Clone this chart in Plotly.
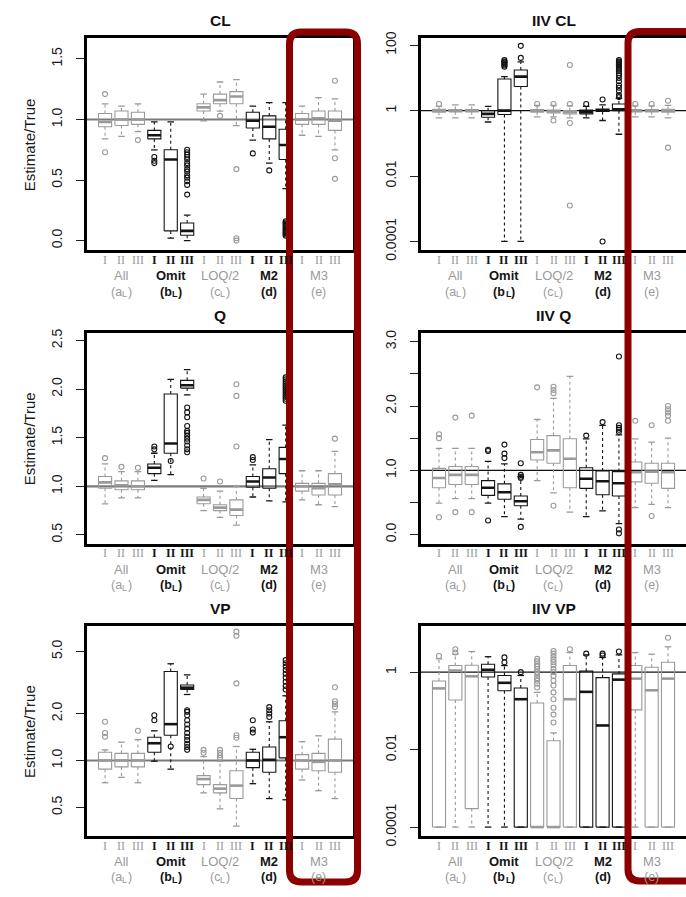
import plotly.graph_objects as go

W, H = 686, 897

# ---- categories -------------------------------------------------------------
GROUPS = ["All", "Omit", "LOQ/2", "M2", "M3"]
# tag = (letter, subscript) -> drawn as "(a_L)", "(d)" ...
GROUP_TAGS = [("a", "L"), ("b", "L"), ("c", "L"), ("d", ""), ("e", "")]
VARIANTS = ["I", "II", "III"]
positions = list(range(1, 16))

GREY = "#9a9a9a"
BLACK = "#141414"
GROUP_COLORS = [GREY, BLACK, GREY, BLACK, GREY]
box_colors = [GROUP_COLORS[(p - 1) // 3] for p in positions]

# ---- CL (Estimate/True) -----------------------------------------------------
cl_q1 = [0.94, 0.95, 0.96, 0.84, 0.08, 0.044, 1.07, 1.13, 1.13, 0.93, 0.84, 0.67, 0.96, 0.96, 0.91]
cl_med = [0.98, 1.00, 1.00, 0.87, 0.67, 0.08, 1.10, 1.16, 1.19, 0.99, 0.94, 0.79, 1.00, 1.01, 0.99]
cl_q3 = [1.05, 1.07, 1.06, 0.91, 0.75, 0.145, 1.13, 1.21, 1.23, 1.06, 1.03, 0.92, 1.05, 1.07, 1.07]
cl_lo = [0.84, 0.86, 0.90, 0.75, 0.02, 0.00, 0.99, 1.07, 0.95, 0.83, 0.64, 0.43, 0.87, 0.86, 0.75]
cl_hi = [1.13, 1.11, 1.13, 0.98, 0.98, 0.21, 1.21, 1.31, 1.33, 1.11, 1.14, 1.14, 1.11, 1.18, 1.17]
cl_out = [[1.21, 0.73], [], [0.83], [0.69, 0.66, 0.64], [],
          [0.75, 0.73, 0.71, 0.69, 0.67, 0.64, 0.62, 0.59, 0.57, 0.54, 0.52, 0.49, 0.46, 0.38],
          [], [1.03], [0.59, 0.02, 0.0], [0.72], [0.58],
          [0.16, 0.15, 0.14, 0.13, 0.12, 0.11, 0.10, 0.09, 0.08, 0.07, 0.06, 0.05, 0.04],
          [], [], [1.32, 0.68, 0.51]]

# ---- IIV CL -------------------------------------------------------------------
iivcl_q1 = [0.9, 0.92, 0.92, 0.63, 0.76, 5.5, 0.9, 0.85, 0.8, 0.8, 0.95, 1.0, 0.92, 0.92, 0.9]
iivcl_med = [1.0, 1.0, 1.0, 0.8, 1.0, 11.0, 1.0, 0.95, 0.92, 0.92, 1.02, 1.1, 1.0, 1.0, 1.0]
iivcl_q3 = [1.1, 1.08, 1.08, 1.0, 9.3, 17.5, 1.08, 1.05, 1.0, 1.05, 1.12, 1.6, 1.08, 1.08, 1.1]
iivcl_lo = [0.6, 0.6, 0.6, 0.45, 0.0001, 0.0001, 0.65, 0.65, 0.6, 0.6, 0.5, 0.19, 0.65, 0.65, 0.6]
iivcl_hi = [1.35, 1.5, 1.5, 1.35, 11.0, 31.0, 1.45, 1.45, 1.4, 1.35, 1.5, 2.4, 1.4, 1.4, 1.45]
iivcl_out = [[1.6], [], [], [], [35, 32, 30, 28, 26, 24, 22], [41, 96], [1.6], [1.6, 0.5],
             [1.6, 0.42, 25, 0.00126], [1.6], [2.2, 0.0001],
             [35, 32, 30, 28, 26, 24, 22, 20, 18, 16, 14, 12, 10, 8, 6, 5, 4, 3, 2.6],
             [1.6], [1.6], [2.0, 0.074]]

# ---- Q (Estimate/True) --------------------------------------------------------
q_q1 = [0.98, 0.965, 0.965, 1.13, 1.34, 2.01, 0.82, 0.75, 0.70, 0.99, 0.98, 1.13, 0.95, 0.91, 0.91]
q_med = [1.04, 1.01, 1.00, 1.19, 1.44, 2.04, 0.86, 0.78, 0.76, 1.05, 1.09, 1.28, 1.00, 0.98, 1.02]
q_q3 = [1.10, 1.056, 1.056, 1.23, 1.95, 2.09, 0.89, 0.81, 0.86, 1.10, 1.18, 1.40, 1.03, 1.03, 1.13]
q_lo = [0.82, 0.88, 0.88, 1.06, 1.12, 1.94, 0.75, 0.68, 0.60, 0.89, 0.85, 0.84, 0.86, 0.81, 0.79]
q_hi = [1.23, 1.15, 1.15, 1.34, 2.10, 2.20, 0.98, 0.95, 1.00, 1.22, 1.48, 1.63, 1.16, 1.16, 1.36]
q_out = [[1.29], [1.20], [1.19], [1.41, 1.38], [1.26],
         [1.81, 1.76, 1.71, 1.62, 1.57, 1.55, 1.52, 1.49, 1.46, 1.42, 1.38, 1.35],
         [1.08], [1.05], [2.05, 1.93, 1.41], [1.30, 1.27], [],
         [2.12, 2.10, 2.08, 2.06, 2.04, 2.02, 2.00, 1.98, 1.96, 1.94, 1.92, 1.90, 1.88],
         [], [], [1.49]]

# ---- IIV Q ----------------------------------------------------------------------
iivq_q1 = [0.73, 0.78, 0.78, 0.61, 0.55, 0.45, 1.16, 1.11, 0.73, 0.72, 0.62, 0.60, 0.82, 0.80, 0.72]
iivq_med = [0.88, 0.93, 0.93, 0.73, 0.66, 0.52, 1.28, 1.31, 1.18, 0.87, 0.83, 0.80, 0.97, 0.98, 0.97]
iivq_q3 = [1.03, 1.06, 1.06, 0.84, 0.79, 0.60, 1.48, 1.54, 1.49, 1.04, 0.99, 0.98, 1.13, 1.11, 1.11]
iivq_lo = [0.49, 0.56, 0.56, 0.49, 0.28, 0.24, 0.84, 0.65, 0.35, 0.28, 0.37, 0.17, 0.42, 0.47, 0.42]
iivq_hi = [1.34, 1.34, 1.34, 1.14, 1.10, 0.90, 1.79, 2.12, 2.46, 1.49, 1.70, 1.55, 1.49, 1.44, 1.50]
iivq_out = [[1.50, 1.56, 0.27], [1.82, 0.35], [1.85, 0.35], [1.30, 1.32, 0.22],
            [1.40, 1.26, 1.19], [1.11, 0.93, 0.90, 0.88, 0.12], [2.29],
            [2.20, 2.25, 2.30, 0.45], [], [1.54], [1.75],
            [2.77, 1.60, 1.63, 1.66, 1.70, 0.08, 0.02], [1.77], [1.70, 0.29],
            [2.00, 1.95, 1.90, 1.85, 1.77]]

# ---- VP (Estimate/True) -------------------------------------------------------
vp_q1 = [0.88, 0.91, 0.91, 1.13, 1.45, 2.85, 0.70, 0.62, 0.57, 0.90, 0.84, 1.04, 0.88, 0.86, 0.84]
vp_med = [1.00, 1.00, 1.00, 1.29, 1.71, 2.93, 0.76, 0.66, 0.69, 1.00, 1.01, 1.41, 1.00, 0.98, 1.00]
vp_q3 = [1.13, 1.11, 1.11, 1.41, 3.72, 3.05, 0.80, 0.70, 0.86, 1.13, 1.22, 1.80, 1.09, 1.11, 1.37]
vp_lo = [0.72, 0.78, 0.72, 0.99, 0.88, 2.65, 0.62, 0.49, 0.38, 0.71, 0.57, 0.56, 0.75, 0.64, 0.57]
vp_hi = [1.17, 1.31, 1.36, 1.55, 4.17, 3.54, 1.06, 0.99, 1.23, 1.18, 1.77, 2.60, 1.32, 1.44, 2.05]
vp_out = [[1.42, 1.50, 1.77], [], [1.55], [1.81, 1.95], [1.23],
          [2.10, 2.05, 1.95, 1.81, 1.70, 1.60, 1.50, 1.42, 1.35, 1.28, 1.22, 1.17],
          [1.12, 1.17], [1.04, 1.08, 1.12, 1.17], [1.40, 1.45, 3.12, 6.3, 6.7],
          [1.51, 1.58, 1.81], [1.90, 2.00, 2.10, 2.20],
          [4.4, 4.2, 4.0, 3.8, 3.6, 3.4, 3.2, 3.0, 2.85], [], [],
          [2.20, 2.30, 2.40, 2.95]]

# ---- IIV VP -------------------------------------------------------------------
iivvp_q1 = [0.0001, 0.19, 0.0003, 0.75, 0.33, 0.0001, 0.0001, 0.0001, 0.0001, 0.0001,
            0.0001, 0.0001, 0.106, 0.0001, 0.0001]
iivvp_med = [0.38, 1.10, 0.78, 1.15, 0.53, 0.20, 0.0001, 0.0001, 0.20, 0.31, 0.042, 0.64,
             0.68, 0.34, 0.68]
iivvp_q3 = [0.59, 1.48, 1.50, 1.60, 0.82, 0.39, 0.16, 0.017, 1.48, 1.06, 0.72, 0.90, 1.48,
            1.34, 1.80]
iivvp_lo = [0.0001] * 15
iivvp_hi = [2.2, 2.9, 3.4, 2.5, 1.48, 0.82, 0.30, 0.027, 3.2, 2.8, 2.4, 2.8, 3.2, 2.9, 4.5]
iivvp_out = [[2.6], [3.9, 3.2], [], [], [2.4, 1.8], [1.0],
             [2.2, 1.9, 1.6, 1.4, 1.2, 1.0, 0.85, 0.7, 0.6, 0.5, 0.4],
             [3.5, 3.0, 2.5, 2.1, 1.8, 1.5, 1.2, 1.0, 0.8, 0.6, 0.45, 0.3, 0.2, 0.12, 0.08, 0.05],
             [3.9], [3.0], [3.0, 2.7], [3.4], [], [], [7.7]]

# ---- axis ticks ---------------------------------------------------------------
cl_ticks = [0.0, 0.5, 1.0, 1.5]
cl_ticktext = ["0.0", "0.5", "1.0", "1.5"]
iivcl_ticks = [0.0001, 0.01, 1, 100]
iivcl_ticktext = ["0.0001", "0.01", "1", "100"]
q_ticks = [0.5, 1.0, 1.5, 2.0, 2.5]
q_ticktext = ["0.5", "1.0", "1.5", "2.0", "2.5"]
iivq_ticks = [0.0, 1.0, 2.0, 3.0]
iivq_ticktext = ["0.0", "1.0", "2.0", "3.0"]
iivq_minor_ticks = [0.5, 1.5, 2.5]
vp_ticks = [0.5, 1.0, 2.0, 5.0]
vp_ticktext = ["0.5", "1.0", "2.0", "5.0"]
iivvp_ticks = [0.0001, 0.01, 1]
iivvp_ticktext = ["0.0001", "0.01", "1"]

# ---- panel layout (pixels) ----------------------------------------------------
ROWS_PX = [(32, 248), (332, 547), (631, 845)]
COLS_PX = [(87, 353), (421, 686)]
X_RANGE = [-0.1, 16.1]
BOX_HALF = 0.4
CAP_HALF = 0.2
SANS = "Liberation Sans, Arial, sans-serif"
SERIF = "Liberation Serif, Times New Roman, serif"

panels = [
    dict(title="CL", row=0, col=0, log=False, yrange=[-0.08, 1.67],
         q1=cl_q1, med=cl_med, q3=cl_q3, lo=cl_lo, hi=cl_hi, out=cl_out,
         ticks=cl_ticks, ticktext=cl_ticktext, minor=None,
         ref_color="#7a7a7a", ref_width=2.2),
    dict(title="IIV CL", row=0, col=1, log=True, yrange=[-4.27, 2.21],
         q1=iivcl_q1, med=iivcl_med, q3=iivcl_q3, lo=iivcl_lo, hi=iivcl_hi, out=iivcl_out,
         ticks=iivcl_ticks, ticktext=iivcl_ticktext, minor=None,
         ref_color="#111111", ref_width=1.3),
    dict(title="Q", row=1, col=0, log=False, yrange=[0.41, 2.58],
         q1=q_q1, med=q_med, q3=q_q3, lo=q_lo, hi=q_hi, out=q_out,
         ticks=q_ticks, ticktext=q_ticktext, minor=None,
         ref_color="#7a7a7a", ref_width=2.2),
    dict(title="IIV Q", row=1, col=1, log=False, yrange=[-0.14, 3.14],
         q1=iivq_q1, med=iivq_med, q3=iivq_q3, lo=iivq_lo, hi=iivq_hi, out=iivq_out,
         ticks=iivq_ticks, ticktext=iivq_ticktext, minor=iivq_minor_ticks,
         ref_color="#111111", ref_width=1.3),
    dict(title="VP", row=2, col=0, log=True, yrange=[-0.484, 0.862],
         q1=vp_q1, med=vp_med, q3=vp_q3, lo=vp_lo, hi=vp_hi, out=vp_out,
         ticks=vp_ticks, ticktext=vp_ticktext, minor=None,
         ref_color="#7a7a7a", ref_width=2.2),
    dict(title="IIV VP", row=2, col=1, log=True, yrange=[-4.23, 1.19],
         q1=iivvp_q1, med=iivvp_med, q3=iivvp_q3, lo=iivvp_lo, hi=iivvp_hi, out=iivvp_out,
         ticks=iivvp_ticks, ticktext=iivvp_ticktext, minor=None,
         ref_color="#111111", ref_width=1.3),
]


def px_x(px):
    return px / W


def px_y(py):
    return 1 - py / H


# rough Arial advance widths (em) for the tag glyphs
GLYPH_EM = {"(": 0.333, ")": 0.333, "a": 0.556, "b": 0.611, "c": 0.5, "d": 0.611,
            "e": 0.556, "L": 0.611}
TAG_SIZE = 12.5
SUB_SIZE = 9


def text_width(s, size, bold=False):
    return sum(GLYPH_EM.get(ch, 0.55) for ch in s) * size * (1.04 if bold else 1.0)


def label(text, xa, x, py, size, color, family=SANS, xanchor="center", xshift=0,
          opacity=1.0):
    return dict(text=text, xref=xa, yref="paper", x=x, y=px_y(py), xanchor=xanchor,
                yanchor="middle", showarrow=False, xshift=xshift, borderpad=0,
                borderwidth=0, opacity=opacity,
                font=dict(family=family, size=size, color=color))


fig = go.Figure()
annotations = []
layout_axes = {}

for k, p in enumerate(panels, start=1):
    xa = "x" if k == 1 else f"x{k}"
    ya = "y" if k == 1 else f"y{k}"
    top, bottom = ROWS_PX[p["row"]]
    left, right = COLS_PX[p["col"]]

    # reference line at Estimate/True = 1
    fig.add_trace(go.Scatter(x=X_RANGE, y=[1, 1], mode="lines", xaxis=xa, yaxis=ya,
                             line=dict(color=p["ref_color"], width=p["ref_width"]),
                             hoverinfo="skip", showlegend=False))

    for color in (GREY, BLACK):
        wx, wy, cx, cy, bx, by, mx, my, ox, oy = [], [], [], [], [], [], [], [], [], []
        for i, pos in enumerate(positions):
            if box_colors[i] != color:
                continue
            q1, med, q3 = p["q1"][i], p["med"][i], p["q3"][i]
            lo, hi = p["lo"][i], p["hi"][i]
            if hi > q3:
                wx += [pos, pos, None]
                wy += [q3, hi, None]
            if lo < q1:
                wx += [pos, pos, None]
                wy += [q1, lo, None]
            cx += [pos - CAP_HALF, pos + CAP_HALF, None, pos - CAP_HALF, pos + CAP_HALF, None]
            cy += [hi, hi, None, lo, lo, None]
            bx += [pos - BOX_HALF, pos + BOX_HALF, pos + BOX_HALF, pos - BOX_HALF, pos - BOX_HALF, None]
            by += [q1, q1, q3, q3, q1, None]
            mx += [pos - BOX_HALF, pos + BOX_HALF, None]
            my += [med, med, None]
            ox += [pos] * len(p["out"][i])
            oy += p["out"][i]
        common = dict(xaxis=xa, yaxis=ya, hoverinfo="skip", showlegend=False)
        fig.add_trace(go.Scatter(x=wx, y=wy, mode="lines",
                                 line=dict(color=color, width=1.1, dash="3px,3px"), **common))
        fig.add_trace(go.Scatter(x=cx, y=cy, mode="lines",
                                 line=dict(color=color, width=1.3), **common))
        fig.add_trace(go.Scatter(x=bx, y=by, mode="lines",
                                 line=dict(color=color, width=1.1), **common))
        fig.add_trace(go.Scatter(x=mx, y=my, mode="lines",
                                 line=dict(color=color, width=2.6), **common))
        fig.add_trace(go.Scatter(x=ox, y=oy, mode="markers",
                                 marker=dict(symbol="circle-open", size=5, color=color,
                                             line=dict(width=1.1, color=color)), **common))

    xkey = "xaxis" if k == 1 else f"xaxis{k}"
    ykey = "yaxis" if k == 1 else f"yaxis{k}"
    layout_axes[xkey] = dict(domain=[px_x(left), min(1.0, px_x(right))], range=X_RANGE,
                             anchor=ya, showgrid=False, zeroline=False, showticklabels=False,
                             ticks="", showline=True, mirror=True, linewidth=2.6,
                             linecolor="#000000", fixedrange=True)
    yaxis = dict(domain=[px_y(bottom), px_y(top)], range=p["yrange"],
                 type="log" if p["log"] else "linear", anchor=xa,
                 showgrid=False, zeroline=False, showline=True,
                 mirror=(p["col"] == 0), linewidth=2.6, linecolor="#000000",
                 ticks="outside", ticklen=8, tickwidth=1.2, tickcolor="#222222",
                 tickvals=p["ticks"], ticktext=p["ticktext"], tickangle=-90,
                 ticklabelstandoff=9,
                 tickfont=dict(family=SANS, size=14, color="#1a1a1a"),
                 fixedrange=True)
    if p["minor"]:
        yaxis["minor"] = dict(tickvals=p["minor"], ticks="outside", ticklen=8,
                              tickwidth=1.2, tickcolor="#222222", showgrid=False)
    layout_axes[ykey] = yaxis

    # panel title
    annotations.append(dict(text=f"<b>{p['title']}</b>", xref="paper", yref="paper",
                            x=px_x((left + right) / 2), y=px_y(top - 18),
                            xanchor="center", yanchor="middle", showarrow=False,
                            font=dict(family=SANS, size=15.5, color="#111111")))
    if p["col"] == 0:
        annotations.append(dict(text="Estimate/True", xref="paper", yref="paper",
                                x=px_x(29), y=px_y((top + bottom) / 2), textangle=-90,
                                xanchor="center", yanchor="middle", showarrow=False,
                                font=dict(family=SANS, size=15, color="#1a1a1a")))

    # category labels under each panel
    for i, pos in enumerate(positions):
        dark = box_colors[i] == BLACK
        txt = f"<b>{VARIANTS[i % 3]}</b>" if dark else VARIANTS[i % 3]
        annotations.append(label(txt, xa, pos, bottom + 10, 12, box_colors[i],
                                 family=SERIF, opacity=0.99))
    for g, name in enumerate(GROUPS):
        center = positions[g * 3 + 1]
        gc = GROUP_COLORS[g]
        bold = gc == BLACK
        wrap = (lambda s: f"<b>{s}</b>") if bold else (lambda s: s)
        annotations.append(label(wrap(name), xa, center, bottom + 26, 13, gc))
        letter, sub = GROUP_TAGS[g]
        if not sub:
            annotations.append(label(wrap(f"({letter})"), xa, center, bottom + 42, TAG_SIZE, gc))
            continue
        w_open = text_width("(" + letter, TAG_SIZE, bold)
        w_sub = text_width(sub, SUB_SIZE, bold)
        w_close = text_width(")", TAG_SIZE, bold)
        start = -(w_open + w_sub + w_close) / 2
        annotations.append(label(wrap("(" + letter), xa, center, bottom + 42, TAG_SIZE, gc,
                                 xanchor="left", xshift=start))
        annotations.append(label(wrap(sub), xa, center, bottom + 45, SUB_SIZE, gc,
                                 xanchor="left", xshift=start + w_open))
        annotations.append(label(wrap(")"), xa, center, bottom + 42, TAG_SIZE, gc,
                                 xanchor="left", xshift=start + w_open + w_sub))


def rounded_rect(x0, y0, x1, y1, r):
    pts = [("M", x0 + r, y0), ("L", x1 - r, y0), ("Q", x1, y0, x1, y0 + r),
           ("L", x1, y1 - r), ("Q", x1, y1, x1 - r, y1), ("L", x0 + r, y1),
           ("Q", x0, y1, x0, y1 - r), ("L", x0, y0 + r), ("Q", x0, y0, x0 + r, y0)]
    parts = []
    for seg in pts:
        cmd, coords = seg[0], seg[1:]
        xy = []
        for j in range(0, len(coords), 2):
            xy.append(f"{px_x(coords[j]):.5f},{px_y(coords[j + 1]):.5f}")
        parts.append(cmd + " " + " ".join(xy))
    return " ".join(parts) + " Z"


HIGHLIGHT = "#8b0000"
shapes = [
    dict(type="path", xref="paper", yref="paper", layer="above",
         path=rounded_rect(289.5, 25.5, 357.5, 892, 12),
         line=dict(color=HIGHLIGHT, width=7)),
    dict(type="path", xref="paper", yref="paper", layer="above",
         path=rounded_rect(628, 25, 730, 891, 12),
         line=dict(color=HIGHLIGHT, width=7)),
]

fig.update_layout(
    width=W, height=H, margin=dict(l=0, r=0, t=0, b=0),
    paper_bgcolor="white", plot_bgcolor="white", showlegend=False,
    annotations=annotations, shapes=shapes, **layout_axes,
)

fig.write_html("out.html")
